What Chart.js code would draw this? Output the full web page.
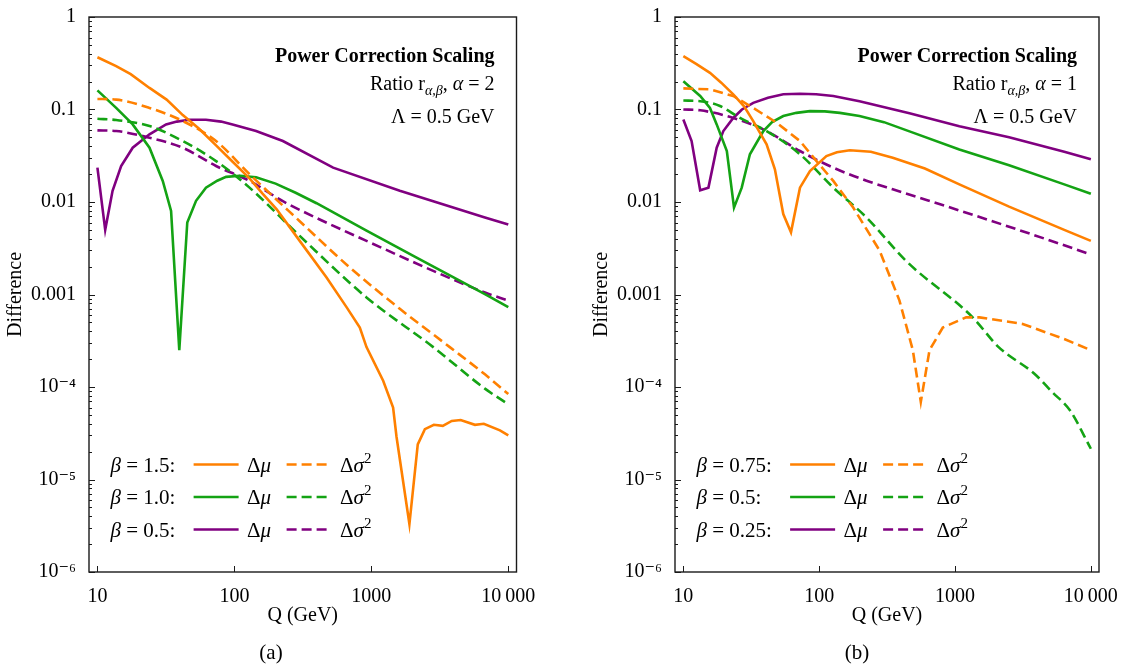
<!DOCTYPE html>
<html>
<head>
<meta charset="utf-8">
<script src="https://cdn.jsdelivr.net/npm/chart.js@4.4.0/dist/chart.umd.min.js"></script>
<style>
  html, body { margin: 0; padding: 0; background: #fff; }
  #wrap { position: relative; width: 1125px; height: 666px; }
  .panel { position: absolute; top: 0; }
  #panelA { left: 0; }
  #panelB { left: 586px; }
</style>
</head>
<body>
<div id="wrap">
  <div class="panel" id="panelA"><canvas id="chartA" width="560" height="666"></canvas></div>
  <div class="panel" id="panelB"><canvas id="chartB" width="539" height="666"></canvas></div>
</div>
<script>
// ================= AXES =================

const yTickValues = [1e-6, 1e-5, 1e-4, 0.001, 0.01, 0.1, 1];
const yTickLabels = ["10⁻⁶", "10⁻⁵", "10⁻⁴", "0.001", "0.01", "0.1", "1"];
const xTickValues = [10, 100, 1000, 10000];
const xTickLabels = ["10", "100", "1000", "10\u2009000"];

// ================= PANEL (a): alpha = 2 =================

const betaA = ["1.5", "1.0", "0.5"];

const qA15mu = [10, 13.7, 17.5, 24, 32, 42, 55, 73.5, 98, 129, 160, 203, 300, 471, 659, 824, 922, 1220, 1442, 1527, 1897, 2183, 2460, 2860, 3325, 3865, 4490, 5710, 6625, 8690, 10000];
const A15mu = [0.367, 0.294, 0.241, 0.171, 0.128, 0.087, 0.0622, 0.041, 0.0269, 0.0180, 0.0124, 0.0084, 0.0038, 0.00153, 7.3e-4, 4.4e-4, 2.7e-4, 1.17e-4, 6.0e-5, 2.9e-5, 3.3e-6, 2.4e-5, 3.5e-5, 3.9e-5, 3.8e-5, 4.3e-5, 4.4e-5, 3.9e-5, 4.0e-5, 3.4e-5, 3.0e-5];
const qA15sig = [10, 13.7, 24, 42, 73.5, 129, 300, 696, 1614, 3740, 6750, 10000];
const A15sig = [0.130, 0.128, 0.104, 0.075, 0.0456, 0.020, 0.0062, 0.00196, 7.0e-4, 2.7e-4, 1.37e-4, 8.4e-5];

const qA10mu = [10, 13.7, 18.1, 24, 30, 34.5, 39.6, 45.3, 52.5, 62, 75, 87, 110, 144, 200, 280, 398, 922, 2140, 6750, 10000];
const A10mu = [0.161, 0.104, 0.069, 0.0386, 0.0169, 0.008, 2.5e-4, 0.006, 0.0103, 0.0143, 0.0170, 0.0187, 0.0192, 0.0185, 0.0158, 0.0126, 0.0097, 0.0049, 0.0025, 0.00101, 7.3e-4];
const qA10sig = [10, 13.7, 24, 42, 73.5, 129, 300, 922, 2830, 6750, 10000];
const A10sig = [0.0794, 0.0769, 0.0662, 0.0456, 0.0277, 0.0143, 0.0043, 9.3e-4, 2.7e-4, 9.6e-5, 6.5e-5];

const qA05mu = [10, 11.4, 12.9, 14.9, 18.1, 24, 31.7, 38, 47, 62, 80, 97, 144, 226, 526, 1614, 6750, 10000];
const A05mu = [0.0235, 0.005, 0.0132, 0.0245, 0.0386, 0.0539, 0.069, 0.074, 0.0774, 0.0774, 0.074, 0.069, 0.0585, 0.0456, 0.0235, 0.0132, 0.0068, 0.0057];
const qA05sig = [10, 13.7, 24, 42, 73.5, 129, 226, 400, 922, 2830, 6750, 10000];
const A05sig = [0.0595, 0.0585, 0.0495, 0.0386, 0.0245, 0.0169, 0.0102, 0.0067, 0.0038, 0.0018, 0.00105, 8.6e-4];

// ================= PANEL (b): alpha = 1 =================

const betaB = ["0.75", "0.5", "0.25"];

const qB075mu = [10, 12.5, 15.7, 19, 23.3, 28, 32.7, 41, 47.2, 54.4, 62, 72.2, 85.5, 113, 135, 168, 240, 348, 600, 1076, 2500, 6370, 10000];
const B075mu = [0.377, 0.31, 0.249, 0.195, 0.146, 0.108, 0.075, 0.042, 0.0226, 0.0074, 0.0047, 0.0143, 0.0216, 0.0314, 0.0345, 0.0362, 0.035, 0.0301, 0.023, 0.0155, 0.0089, 0.005, 0.0038];
const qB075sig = [10, 15.7, 23.3, 32.7, 48.6, 72.2, 95.6, 127, 178, 278, 390, 489, 560, 649, 813, 1208, 1513, 3150, 6370, 10000];
const B075sig = [0.169, 0.165, 0.14, 0.104, 0.072, 0.0456, 0.0277, 0.0169, 0.0087, 0.003, 8.6e-4, 2.5e-4, 6.9e-5, 2.5e-4, 4.4e-4, 5.66e-4, 5.66e-4, 4.8e-4, 3.3e-4, 2.5e-4];

const qB05mu = [10, 13.3, 15.7, 17.6, 20.9, 23.6, 26.9, 30.9, 38.8, 45, 54.4, 68, 85.5, 110, 142, 198, 300, 462, 1076, 2500, 6370, 10000];
const B05mu = [0.202, 0.14, 0.104, 0.069, 0.0356, 0.0087, 0.0143, 0.0328, 0.0585, 0.073, 0.085, 0.092, 0.096, 0.0955, 0.092, 0.085, 0.073, 0.058, 0.037, 0.025, 0.0155, 0.0123];
const qB05sig = [10, 13.3, 18.6, 26.1, 41, 72.2, 127, 223, 437, 1349, 2094, 3840, 5200, 7010, 10000];
const B05sig = [0.125, 0.123, 0.109, 0.081, 0.0585, 0.0328, 0.0143, 0.0068, 0.0023, 5.66e-4, 2.7e-4, 1.39e-4, 8.8e-5, 5.6e-5, 2.15e-5];

const qB025mu = [10, 11.5, 13.3, 15.3, 17.6, 19.7, 23.3, 27, 32.7, 42, 54.4, 72.2, 95, 127, 198, 462, 1076, 2500, 6370, 10000];
const B025mu = [0.078, 0.0456, 0.0134, 0.0143, 0.0386, 0.0585, 0.081, 0.1, 0.118, 0.134, 0.146, 0.148, 0.146, 0.14, 0.123, 0.091, 0.066, 0.05, 0.035, 0.029];
const qB025sig = [10, 13.3, 23.3, 41, 72.2, 127, 223, 348, 1076, 2500, 6370, 10000];
const B025sig = [0.1, 0.098, 0.081, 0.0585, 0.0356, 0.0235, 0.017, 0.0137, 0.0081, 0.0054, 0.0034, 0.0027];

// ================= STYLE =================

const colors = ["#ff8000", "#14a314", "#800080"];
const SERIF = "'Liberation Serif', 'DejaVu Serif', serif";

// smooth = no sharp dip in the curve, so a monotone spline is safe
function series(q, v, color, dashed, smooth) {
  return {
    data: q.map((x, i) => ({ x: x, y: v[i] })),
    borderColor: color,
    borderWidth: 2.6,
    borderDash: dashed ? [10, 5] : [],
    pointRadius: 0,
    tension: smooth ? 0.4 : 0,
    cubicInterpolationMode: smooth ? "monotone" : "default",
    fill: false
  };
}

function isDecade(v) {
  const l = Math.log10(v);
  return Math.abs(l - Math.round(l)) < 1e-6;
}

function drawRuns(ctx, runs, x, y, alignRight) {
  let w = 0;
  runs.forEach(r => { ctx.font = r[1]; w += ctx.measureText(r[0]).width; });
  let cx = alignRight ? x - w : x;
  runs.forEach(r => {
    ctx.font = r[1];
    ctx.fillText(r[0], cx, y + (r[2] || 0));
    cx += ctx.measureText(r[0]).width;
  });
  return w;
}

// frame, inward ticks, annotation, legend and caption
const figurePlugin = {
  id: "figureText",
  afterDraw(chart, args, opts) {
    const ctx = chart.ctx;
    const a = chart.chartArea;
    const xs = chart.scales.x, ys = chart.scales.y;
    ctx.save();

    // ticks
    ctx.strokeStyle = "#1a1a1a";
    ctx.lineWidth = 1;
    ys.ticks.forEach(t => {
      const py = Math.round(ys.getPixelForValue(t.value)) + 0.5;
      const len = isDecade(t.value) ? 6 : 3;
      ctx.beginPath(); ctx.moveTo(a.left, py); ctx.lineTo(a.left + len, py); ctx.stroke();
    });
    xs.ticks.forEach(t => {
      const px = Math.round(xs.getPixelForValue(t.value)) + 0.5;
      ctx.beginPath(); ctx.moveTo(px, a.bottom); ctx.lineTo(px, a.bottom - 6); ctx.stroke();
    });

    // frame
    ctx.lineWidth = 1.4;
    ctx.strokeRect(a.left, a.top, a.right - a.left, a.bottom - a.top);

    // annotation
    ctx.fillStyle = "#000";
    ctx.textBaseline = "alphabetic";
    ctx.textAlign = "left";
    const xr = a.right - 22;
    const reg = "20px " + SERIF, ita = "italic 20px " + SERIF;
    drawRuns(ctx, [["Power Correction Scaling", "bold 20px " + SERIF]], xr, 62, true);
    drawRuns(ctx, [["Ratio r", reg], ["α,β", "italic 14px " + SERIF, 5], [", ", reg], ["α", ita], [" = " + opts.alpha, reg]], xr, 90, true);
    drawRuns(ctx, [["Λ = 0.5 GeV", reg]], xr, 123, true);

    // legend
    const lreg = "21px " + SERIF, lita = "italic 21px " + SERIF;
    const x0 = a.left + 21.5;
    let labW = 0;
    ctx.font = lreg;
    opts.beta.forEach(b => { labW = Math.max(labW, ctx.measureText("β = " + b + ":").width); });
    const ls = x0 + labW + 18;
    const ds = chart.data.datasets;
    opts.beta.forEach((b, i) => {
      const ly = a.bottom - 107.5 + i * 32.5;
      drawRuns(ctx, [["β", lita], [" = " + b + ":", lreg]], x0, ly + 7, false);
      ctx.lineWidth = ds[2 * i].borderWidth;
      ctx.strokeStyle = ds[2 * i].borderColor;
      ctx.setLineDash([]);
      ctx.beginPath(); ctx.moveTo(ls, ly); ctx.lineTo(ls + 45, ly); ctx.stroke();
      drawRuns(ctx, [["Δ", lreg], ["μ", lita]], ls + 53.5, ly + 7, false);
      ctx.strokeStyle = ds[2 * i + 1].borderColor;
      ctx.setLineDash(ds[2 * i + 1].borderDash);
      ctx.beginPath(); ctx.moveTo(ls + 93, ly); ctx.lineTo(ls + 138, ly); ctx.stroke();
      ctx.setLineDash([]);
      drawRuns(ctx, [["Δ", lreg], ["σ", lita], ["2", "15px " + SERIF, -9]], ls + 146.5, ly + 7, false);
    });

    // caption
    ctx.font = "21px " + SERIF;
    ctx.textAlign = "center";
    ctx.fillText(opts.caption, 271, 659);
    ctx.restore();
  }
};

function makeChart(id, sets, beta, alpha, caption, rightPad) {
  const datasets = [];
  sets.forEach((s, i) => {
    datasets.push(series(s[0], s[1], colors[i], false, false));
    datasets.push(series(s[2], s[3], colors[i], true, s[4]));
  });
  return new Chart(document.getElementById(id).getContext("2d"), {
    type: "line",
    data: { datasets: datasets },
    plugins: [figurePlugin],
    options: {
      responsive: false,
      devicePixelRatio: 1,
      animation: false,
      layout: { padding: { left: 0, right: rightPad, top: 16, bottom: 34 } },
      plugins: {
        legend: { display: false },
        tooltip: { enabled: false },
        figureText: { beta: beta, alpha: alpha, caption: caption }
      },
      scales: {
        x: {
          type: "logarithmic",
          min: 8.68,
          max: 11480,
          grid: { display: false },
          border: { display: false },
          afterBuildTicks: (scale) => { scale.ticks = xTickValues.map(v => ({ value: v })); },
          afterFit: (scale) => { scale.height = 60; },
          ticks: {
            autoSkip: false,
            maxRotation: 0,
            padding: 5,
            color: "#000",
            font: { family: SERIF, size: 20 },
            callback: (v, i) => xTickLabels[i]
          },
          title: {
            display: true,
            text: "Q (GeV)",
            color: "#000",
            font: { family: SERIF, size: 20 },
            padding: { top: 4, bottom: 4 }
          }
        },
        y: {
          type: "logarithmic",
          min: 1e-6,
          max: 1,
          grid: { display: false },
          border: { display: false },
          afterBuildTicks: (scale) => {
            const t = [];
            yTickValues.forEach((d, i) => {
              if (i === yTickValues.length - 1) { t.push({ value: d }); return; }
              for (let k = 1; k <= 9; k++) t.push({ value: d * k });
            });
            scale.ticks = t;
          },
          afterFit: (scale) => { scale.width = 89; },
          ticks: {
            autoSkip: false,
            padding: 5,
            color: "#000",
            font: { family: SERIF, size: 20 },
            callback: (v) => {
              const i = yTickValues.findIndex(d => Math.abs(v / d - 1) < 1e-6);
              return i >= 0 ? yTickLabels[i] : "";
            }
          },
          title: {
            display: true,
            text: "Difference",
            color: "#000",
            font: { family: SERIF, size: 20 },
            padding: { top: 4, bottom: 4 }
          }
        }
      }
    }
  });
}

makeChart("chartA", [
  [qA15mu, A15mu, qA15sig, A15sig, true],
  [qA10mu, A10mu, qA10sig, A10sig, true],
  [qA05mu, A05mu, qA05sig, A05sig, true]
], betaA, "2", "(a)", 43.5);

makeChart("chartB", [
  [qB075mu, B075mu, qB075sig, B075sig, false],
  [qB05mu, B05mu, qB05sig, B05sig, true],
  [qB025mu, B025mu, qB025sig, B025sig, true]
], betaB, "1", "(b)", 26);
</script>
</body>
</html>
